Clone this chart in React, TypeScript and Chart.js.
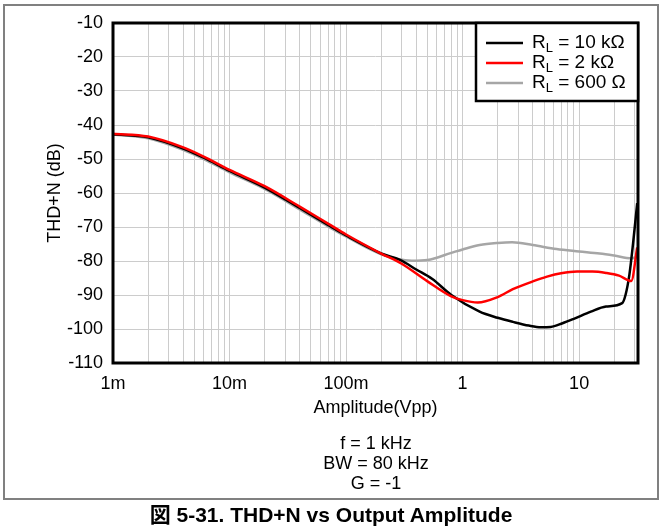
import React, { useEffect, useRef } from "react";
import { Chart, registerables } from "chart.js";

Chart.register(...registerables);

// ---- Data ----
const ampRL10k = [0.001, 0.002, 0.004, 0.006, 0.01, 0.02, 0.04, 0.07, 0.1, 0.2, 0.29, 0.4, 0.55, 0.8, 1.4, 2.0, 2.7, 3.7, 4.7, 5.7, 7.2, 9, 12.6, 17, 23.4, 25, 27, 29, 31.5];
const thdRL10k = [-42.7, -43.6, -46.9, -49.6, -53.5, -58.4, -64.4, -69.4, -72.5, -77.8, -79.7, -82.5, -85.3, -90.0, -94.9, -96.7, -97.9, -99.0, -99.5, -99.4, -98.3, -97.0, -94.9, -93.4, -92.4, -90.0, -84.0, -75.0, -63.0];

const ampRL2k = [0.001, 0.002, 0.004, 0.006, 0.01, 0.02, 0.04, 0.07, 0.1, 0.2, 0.3, 0.5, 0.8, 1.0, 1.35, 2.0, 2.7, 4, 5.3, 7, 9.6, 13, 17, 22, 28, 31.5];
const thdRL2k = [-42.6, -43.4, -46.6, -49.3, -53.2, -58.0, -64.0, -69.0, -72.2, -77.8, -80.8, -86.0, -90.4, -91.5, -92.2, -90.6, -88.3, -86.0, -84.6, -83.6, -83.1, -83.1, -83.5, -84.3, -85.9, -76.0];

const ampRL600 = [0.001, 0.002, 0.004, 0.006, 0.01, 0.02, 0.04, 0.07, 0.1, 0.2, 0.366, 0.5, 0.8, 1.0, 1.4, 2.0, 2.66, 4, 6.4, 10, 15, 20, 28, 31.5];
const thdRL600 = [-42.8, -43.9, -47.3, -50.0, -53.9, -58.8, -64.8, -69.8, -72.8, -78.0, -79.9, -79.7, -77.6, -76.6, -75.3, -74.7, -74.5, -75.3, -76.5, -77.2, -77.8, -78.4, -79.2, -78.8];

const seriesNames = ["10 k\u03A9", "2 k\u03A9", "600 \u03A9"];
const seriesColors = ["#000000", "#ff0000", "#a6a6a6"];

const xDecades = [0.001, 0.01, 0.1, 1, 10];
const xDecadeLabels = ["1m", "10m", "100m", "1", "10"];
const xMin = 0.001;
const xMax = 32;
const yMin = -110;
const yMax = -10;
const yStep = 10;

const xTitle = "Amplitude(Vpp)";
const yTitle = "THD+N (dB)";
const notes = ["f = 1 kHz", "BW = 80 kHz", "G = -1"];
const caption = "\u56F3 5-31. THD+N vs Output Amplitude";

const FONT = "'Liberation Sans', Arial, Helvetica, sans-serif";

function toPoints(xs: number[], ys: number[]) {
  return xs.map((x, i) => ({ x, y: ys[i] }));
}

const borderPlugin = {
  id: "plotBorder",
  afterDatasetsDraw(chart: any) {
    const { ctx, chartArea } = chart;
    ctx.save();
    ctx.strokeStyle = "#000";
    ctx.lineWidth = 3;
    ctx.strokeRect(chartArea.left, chartArea.top, chartArea.right - chartArea.left, chartArea.bottom - chartArea.top);
    ctx.restore();
  },
};

const legendPlugin = {
  id: "subLegend",
  afterDraw(chart: any) {
    const { ctx, chartArea } = chart;
    const boxW = 162;
    const boxH = 78;
    const left = chartArea.right - boxW;
    const top = chartArea.top;
    ctx.save();
    ctx.fillStyle = "#fff";
    ctx.fillRect(left, top, boxW, boxH);
    ctx.strokeStyle = "#000";
    ctx.lineWidth = 2.5;
    ctx.strokeRect(left, top, boxW, boxH);
    seriesNames.forEach((name, i) => {
      const y = top + 20 + i * 20;
      ctx.strokeStyle = seriesColors[i];
      ctx.lineWidth = 2.5;
      ctx.beginPath();
      ctx.moveTo(left + 10, y);
      ctx.lineTo(left + 47, y);
      ctx.stroke();
      ctx.fillStyle = "#000";
      ctx.textBaseline = "middle";
      ctx.textAlign = "left";
      let x = left + 56;
      ctx.font = `19px ${FONT}`;
      ctx.fillText("R", x, y);
      x += ctx.measureText("R").width;
      ctx.font = `13px ${FONT}`;
      ctx.fillText("L", x, y + 5);
      x += ctx.measureText("L").width;
      ctx.font = `19px ${FONT}`;
      ctx.fillText(" = " + name, x, y);
    });
    ctx.restore();
  },
};

function buildXTicks() {
  const ticks: number[] = [];
  for (const d of xDecades) {
    for (let m = 1; m <= 9; m++) {
      const v = m * d;
      if (v <= xMax * 1.0001) ticks.push(v);
    }
  }
  return ticks;
}

function makeDataset(label: string, xs: number[], ys: number[], color: string, order: number) {
  return {
    label,
    data: toPoints(xs, ys),
    borderColor: color,
    borderWidth: 2.5,
    pointRadius: 0,
    cubicInterpolationMode: "monotone",
    fill: false,
    order,
  };
}

export default function App() {
  const canvasRef = useRef<HTMLCanvasElement | null>(null);

  useEffect(() => {
    if (!canvasRef.current) return;
    const chart = new Chart(canvasRef.current, {
      type: "line",
      data: {
        datasets: [
          makeDataset("RL = 10 kΩ", ampRL10k, thdRL10k, seriesColors[0], 2),
          makeDataset("RL = 2 kΩ", ampRL2k, thdRL2k, seriesColors[1], 1),
          makeDataset("RL = 600 Ω", ampRL600, thdRL600, seriesColors[2], 3),
        ],
      },
      options: {
        responsive: false,
        animation: false,
        devicePixelRatio: 1,
        font: { family: FONT },
        layout: { padding: { left: 40, top: 23, right: 24, bottom: 106 } },
        plugins: {
          legend: { display: false },
          tooltip: { enabled: false },
        },
        scales: {
          x: {
            type: "logarithmic",
            min: xMin,
            max: xMax,
            border: { display: false },
            afterBuildTicks: (scale: any) => {
              scale.ticks = buildXTicks().map((v) => ({ value: v }));
            },
            afterFit: (scale: any) => {
              scale.height = 60;
            },
            grid: { color: "#cccccc", lineWidth: 1, drawTicks: false },
            ticks: {
              autoSkip: false,
              maxRotation: 0,
              minRotation: 0,
              padding: 10,
              color: "#000",
              font: { family: FONT, size: 18 },
              callback: (value: any) => {
                const v = Number(value);
                const idx = xDecades.findIndex((d) => Math.abs(v / d - 1) < 1e-6);
                return idx >= 0 ? xDecadeLabels[idx] : "";
              },
            },
            title: {
              display: true,
              text: xTitle,
              color: "#000",
              font: { family: FONT, size: 18 },
              padding: { top: 4, bottom: 4 },
            },
          },
          y: {
            type: "linear",
            min: yMin,
            max: yMax,
            border: { display: false },
            afterFit: (scale: any) => {
              scale.width = 73;
            },
            grid: { color: "#cccccc", lineWidth: 1, drawTicks: false },
            ticks: {
              stepSize: yStep,
              padding: 10,
              color: "#000",
              font: { family: FONT, size: 18 },
            },
            title: {
              display: true,
              text: yTitle,
              color: "#000",
              font: { family: FONT, size: 18 },
              padding: { top: 4, bottom: 0 },
            },
          },
        },
      },
      plugins: [borderPlugin, legendPlugin],
    } as any);
    return () => chart.destroy();
  }, []);

  return (
    <div style={{ position: "absolute", left: 0, top: 0, width: 662, height: 529, background: "#fff", fontFamily: FONT }}>
      <div
        style={{
          position: "absolute",
          left: 3,
          top: 4,
          width: 652,
          height: 492,
          border: "2px solid #808080",
        }}
      />
      <canvas ref={canvasRef} width={662} height={529} style={{ position: "absolute", left: 0, top: 0, width: 662, height: 529 }} />
      {notes.map((t, i) => (
        <div
          key={i}
          style={{
            position: "absolute",
            left: 276,
            width: 200,
            top: 433 + i * 20,
            height: 20,
            lineHeight: "20px",
            textAlign: "center",
            fontSize: 18,
            color: "#000",
          }}
        >
          {t}
        </div>
      ))}
      <div
        style={{
          position: "absolute",
          left: 0,
          width: 662,
          top: 503,
          height: 24,
          lineHeight: "24px",
          textAlign: "center",
          fontSize: 21,
          fontWeight: "bold",
          color: "#000",
          fontFamily: "'Liberation Sans', 'Noto Sans CJK JP', Arial, sans-serif",
        }}
      >
        {caption}
      </div>
    </div>
  );
}
